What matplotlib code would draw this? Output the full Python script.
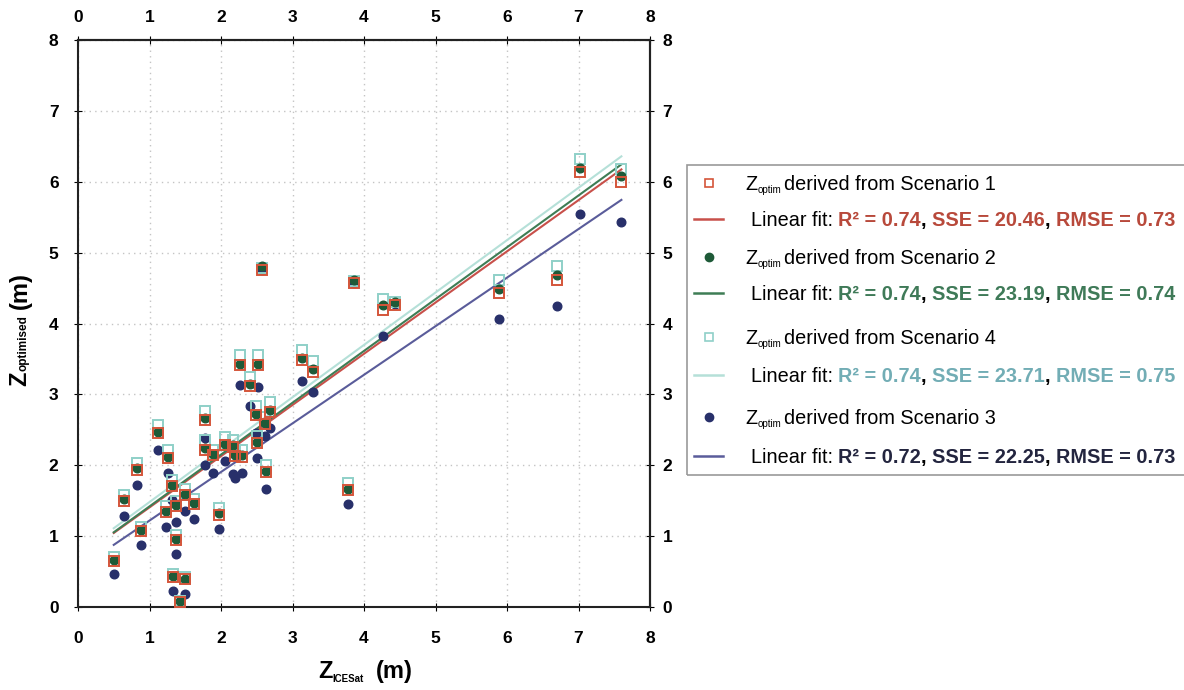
import numpy as np
import matplotlib
matplotlib.use('Agg')
import matplotlib.pyplot as plt
from matplotlib.patches import Rectangle
from matplotlib.lines import Line2D

# ICESat elevation vs optimised elevation for the four scenarios
x_icesat = [0.50, 0.64, 0.83, 0.88, 1.12, 1.26, 1.31, 1.23, 1.37, 1.49, 1.62, 1.37, 1.33, 1.50,
            1.42, 1.97, 1.78, 1.78, 1.89, 2.05, 2.26, 2.52, 2.40, 2.49, 2.69, 2.50, 2.17, 2.20,
            2.29, 2.63, 2.57, 2.62, 3.86, 4.27, 4.43, 3.13, 3.29, 3.78, 5.89, 6.70, 7.02, 7.60]
z_scen1 = [0.65, 1.50, 1.94, 1.07, 2.45, 2.10, 1.71, 1.34, 1.42, 1.58, 1.45, 0.94, 0.43, 0.39,
           0.07, 1.30, 2.64, 2.22, 2.14, 2.28, 3.41, 3.41, 3.12, 2.71, 2.75, 2.31, 2.26, 2.13,
           2.12, 1.90, 4.76, 2.58, 4.57, 4.19, 4.26, 3.48, 3.32, 1.65, 4.43, 4.62, 6.14, 6.00]
z_scen2 = [0.67, 1.52, 1.96, 1.09, 2.47, 2.12, 1.72, 1.36, 1.44, 1.60, 1.47, 0.96, 0.44, 0.40,
           0.08, 1.32, 2.66, 2.24, 2.16, 2.30, 3.43, 3.43, 3.14, 2.73, 2.78, 2.33, 2.28, 2.15,
           2.14, 1.92, 4.81, 2.60, 4.62, 4.26, 4.31, 3.51, 3.36, 1.67, 4.48, 4.68, 6.20, 6.08]
z_scen4 = [0.70, 1.58, 2.03, 1.13, 2.57, 2.21, 1.79, 1.42, 1.50, 1.66, 1.53, 1.01, 0.46, 0.42,
           0.09, 1.39, 2.76, 2.35, 2.22, 2.40, 3.55, 3.55, 3.25, 2.83, 2.89, 2.41, 2.36, 2.22,
           2.21, 2.00, 4.78, 2.68, 4.60, 4.34, 4.30, 3.63, 3.47, 1.75, 4.62, 4.81, 6.32, 6.18]
z_scen3 = [0.46, 1.28, 1.72, 0.87, 2.21, 1.89, 1.51, 1.13, 1.20, 1.36, 1.24, 0.75, 0.23, 0.19,
           -0.12, 1.10, 2.39, 2.00, 1.89, 2.06, 3.13, 3.10, 2.84, 2.45, 2.52, 2.10, 1.88, 1.82,
           1.89, 1.66, 4.76, 2.41, 4.57, 3.82, 4.28, 3.19, 3.04, 1.45, 4.06, 4.24, 5.54, 5.43]

scen_names = ['1', '2', '4', '3']
r2_vals = ['0.74', '0.74', '0.74', '0.72']
sse_vals = ['20.46', '23.19', '23.71', '22.25']
rmse_vals = ['0.73', '0.74', '0.75', '0.73']

W, H = 1184, 690
fig = plt.figure(figsize=(W / 100, H / 100), dpi=100)
ax = fig.add_axes([78 / W, 1 - 607 / H, 572 / W, 567 / H])

tick_font = ['Liberation Sans Narrow', 'Liberation Sans', 'DejaVu Sans']
text_font = ['Liberation Sans', 'DejaVu Sans']

mark_col = ['#d4553a', '#1e5a38', '#8fd0c8', '#28306a']
line_col = ['#c8504a', '#3e7d55', '#b5e0d8', '#5a5c9a']
text_col = ['#b8493b', '#3f7a58', '#72adb5', '#23253f']
series = [z_scen1, z_scen2, z_scen4, z_scen3]
x = np.array(x_icesat)

# fit lines
for z, c in zip(series, line_col):
    p = np.polyfit(x, np.array(z), 1)
    xx = np.array([x.min(), x.max()])
    ax.plot(xx, np.polyval(p, xx), color=c, lw=1.5, zorder=2)

ax.plot(x, z_scen3, 'o', ms=6.2, color=mark_col[3], zorder=3)
ax.plot(x, z_scen4, 's', ms=7.5, mfc='none', mec=mark_col[2], mew=1.4, zorder=4)
ax.plot(x, z_scen2, 'o', ms=6.2, color=mark_col[1], zorder=5)
ax.plot(x, z_scen1, 's', ms=7.5, mfc='none', mec=mark_col[0], mew=1.4, zorder=6)

ax.set_xlim(0, 8)
ax.set_ylim(0, 8)
ax.set_xticks(range(9))
ax.set_yticks(range(9))
ax.grid(color='#c4c4c4', linestyle=(0, (1, 3)), lw=1)
for s in ax.spines.values():
    s.set_linewidth(1.5)
    s.set_color('#222222')
ax.tick_params(axis='x', direction='inout', length=6, pad=14, labelsize=12.5)
ax.tick_params(axis='y', direction='inout', length=6, pad=11, labelsize=12.5)

secx = ax.secondary_xaxis('top')
secx.set_xticks(range(9))
secx.tick_params(direction='inout', length=6, pad=8, labelsize=12.5)
secy = ax.secondary_yaxis('right')
secy.set_yticks(range(9))
secy.tick_params(direction='inout', length=6, pad=6, labelsize=12.5)
for a in [ax, secx, secy]:
    for lab in a.get_xticklabels() + a.get_yticklabels():
        lab.set_fontweight('bold')
        lab.set_family(tick_font)
for a in [secx, secy]:
    for s in a.spines.values():
        s.set_linewidth(1.5)
        s.set_color('#222222')

fig.canvas.draw()
renderer = fig.canvas.get_renderer()


def put(xp, yp, s, size=14.3, color='black', weight='normal'):
    t = fig.text(xp / W, 1 - yp / H, s, fontsize=size, color=color, fontweight=weight,
                 family=text_font, va='baseline', ha='left')
    return xp + t.get_window_extent(renderer).width


def put_v(xp, yp, s, size):
    t = fig.text(xp / W, 1 - yp / H, s, fontsize=size, fontweight='bold', family=text_font,
                 rotation=90, va='bottom', ha='center')
    return yp - t.get_window_extent(renderer).height


# axis labels
xp = put(318, 678, 'Z', size=17, weight='bold')
xp = put(xp, 682, 'ICESat', size=7, weight='bold')
put(xp + 12, 678, '(m)', size=17, weight='bold')

yp = put_v(20, 386, 'Z', 17)
yp = put_v(24, yp - 1, 'optimised', 8.5)
put_v(20, yp - 6, '(m)', 17)

# legend drawn by hand (mixed colours in one line)
fig.patches.append(Rectangle((687 / W, 1 - 475 / H), 520 / W, 310 / H, transform=fig.transFigure,
                             fill=False, ec='#999999', lw=1.2))
row_mark = [183, 257, 337, 417]
row_fit = [219, 293, 375, 456]
mk = ['s', 'o', 's', 'o']
for i in range(4):
    y0 = row_mark[i]
    if mk[i] == 's':
        fig.lines.append(Line2D([709 / W], [1 - y0 / H], marker='s', ms=6, mfc='none',
                                mec=mark_col[i], mew=1.2, transform=fig.transFigure))
    else:
        fig.lines.append(Line2D([709 / W], [1 - y0 / H], marker='o', ms=6, color=mark_col[i],
                                transform=fig.transFigure))
    xp = put(745, y0 + 7, 'Z')
    xp = put(xp, y0 + 10, 'optim', size=7)
    put(xp + 3, y0 + 7, 'derived from Scenario ' + scen_names[i])

    y1 = row_fit[i]
    fig.lines.append(Line2D([694 / W, 723 / W], [1 - y1 / H, 1 - y1 / H], color=line_col[i],
                            lw=1.8, transform=fig.transFigure))
    xp = put(751, y1 + 7, 'Linear fit: ')
    xp = put(xp, y1 + 7, 'R² = ' + r2_vals[i], color=text_col[i], weight='bold')
    xp = put(xp, y1 + 7, ', ', weight='bold')
    xp = put(xp, y1 + 7, 'SSE = ' + sse_vals[i], color=text_col[i], weight='bold')
    xp = put(xp, y1 + 7, ', ', weight='bold')
    put(xp, y1 + 7, 'RMSE = ' + rmse_vals[i], color=text_col[i], weight='bold')

fig.savefig('out.png', dpi=100)
